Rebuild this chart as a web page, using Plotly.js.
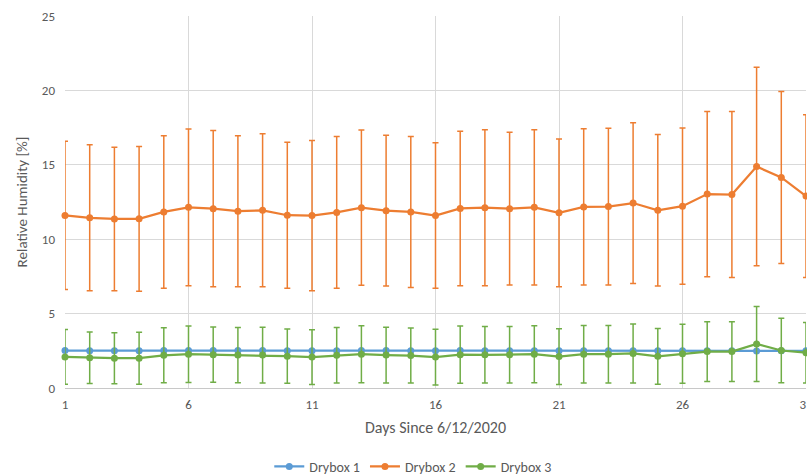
<!DOCTYPE html>
<html>
<head>
<meta charset="utf-8">
<script src="https://cdn.plot.ly/plotly-3.0.1.min.js"></script>
<style>
  html, body { margin: 0; padding: 0; background: #ffffff; }
  #chart { width: 807px; height: 475px; }
</style>
</head>
<body>
<div id="chart"></div>
<script>
// Daily relative humidity readings for three dryboxes (mean ± std. dev.)
const days = [1,2,3,4,5,6,7,8,9,10,11,12,13,14,15,16,17,18,19,20,21,22,23,24,25,26,27,28,29,30,31];

const drybox1 = [2.52,2.51,2.51,2.51,2.52,2.52,2.52,2.52,2.52,2.51,2.51,2.51,2.52,2.52,2.51,2.51,2.52,2.51,2.51,2.51,2.51,2.51,2.51,2.51,2.51,2.51,2.51,2.5,2.48,2.5,2.5];

const drybox2 = [11.6,11.44,11.36,11.37,11.83,12.14,12.05,11.88,11.94,11.61,11.59,11.8,12.12,11.92,11.83,11.59,12.07,12.12,12.05,12.14,11.77,12.17,12.19,12.43,11.94,12.22,13.03,13.0,14.88,14.15,12.9];
const drybox2Err = [4.98,4.9,4.82,4.86,5.13,5.27,5.25,5.08,5.14,4.91,5.05,5.1,5.22,5.07,5.07,4.89,5.19,5.24,5.13,5.22,4.97,5.25,5.27,5.4,5.09,5.25,5.55,5.58,6.67,5.78,5.47];

const drybox3 = [2.09,2.03,2.0,2.0,2.2,2.27,2.24,2.21,2.21,2.14,2.08,2.2,2.27,2.21,2.18,2.08,2.24,2.23,2.23,2.27,2.11,2.27,2.27,2.32,2.13,2.3,2.45,2.45,2.96,2.52,2.37];
const drybox3Err = [1.84,1.73,1.71,1.74,1.85,1.9,1.86,1.85,1.88,1.82,1.84,1.87,1.92,1.87,1.85,1.87,1.92,1.9,1.9,1.92,1.87,1.93,1.93,1.98,1.87,1.98,2.01,2.01,2.52,2.16,2.03];

const xTicks = [1,6,11,16,21,26,31];
const yTicks = [0,5,10,15,20,25];

const FONT = 'Carlito, Lato, "Liberation Sans", sans-serif';
const TEXT = '#595959';

function series(name, y, err, color) {
  const t = {
    type: 'scatter',
    mode: 'lines+markers',
    name: name,
    x: days,
    y: y,
    line: { color: color, width: 2.25 },
    marker: { color: color, size: 7, symbol: 'circle' },
    cliponaxis: false
  };
  if (err) {
    t.error_y = { type: 'data', array: err, visible: true, color: color, thickness: 1.5, width: 3 };
  }
  return t;
}

const data = [
  series('Drybox 1', drybox1, null, '#5B9BD5'),
  series('Drybox 2', drybox2, drybox2Err, '#ED7D31'),
  series('Drybox 3', drybox3, drybox3Err, '#70AD47')
];

const layout = {
  width: 807,
  height: 475,
  margin: { l: 65, r: 1, t: 16, b: 87, autoexpand: false },
  paper_bgcolor: '#ffffff',
  plot_bgcolor: '#ffffff',
  font: { family: FONT, color: TEXT, size: 13 },
  showlegend: true,
  legend: {
    orientation: 'h',
    x: 0.47, xanchor: 'center',
    y: -0.212, yanchor: 'middle',
    font: { family: FONT, size: 14, color: TEXT },
    itemwidth: 30
  },
  xaxis: {
    range: [1, 31],
    tickmode: 'array',
    tickvals: xTicks,
    ticktext: xTicks.map(String),
    showgrid: true,
    gridcolor: '#d9d9d9',
    gridwidth: 1,
    zeroline: false,
    showline: false,
    ticks: '',
    ticklabelstandoff: 7,
    ticklabeloverflow: 'allow',
    tickfont: { size: 13, color: TEXT },
    title: { text: 'Days Since 6/12/2020', font: { size: 16, color: TEXT }, standoff: 10 }
  },
  yaxis: {
    range: [0, 25],
    tickmode: 'array',
    tickvals: yTicks,
    showgrid: true,
    gridcolor: '#d9d9d9',
    gridwidth: 1,
    zeroline: true,
    zerolinecolor: '#c8c8c8',
    zerolinewidth: 1,
    showline: false,
    ticks: '',
    ticklabelstandoff: 9,
    tickfont: { size: 13, color: TEXT },
    title: { text: 'Relative Humidity [%]', font: { size: 15, color: TEXT }, standoff: 10 }
  }
};

Plotly.newPlot('chart', data, layout, { displayModeBar: false, staticPlot: true });
</script>
</body>
</html>
